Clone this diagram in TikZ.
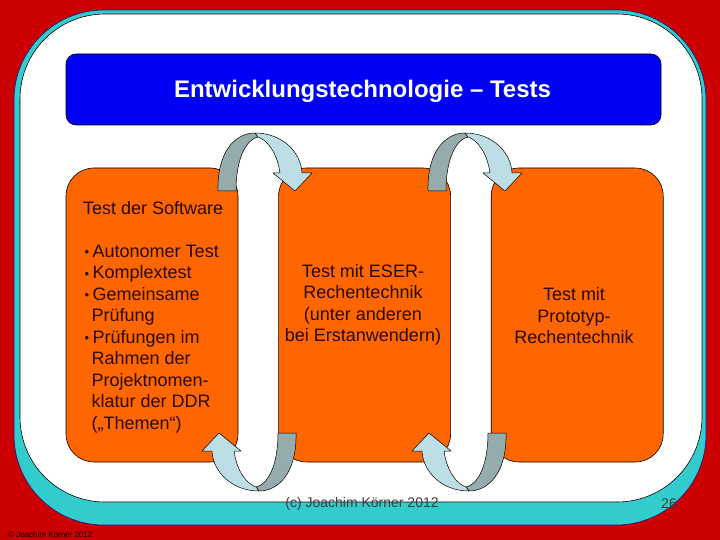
\documentclass[tikz,border=0pt]{standalone}
\usepackage{fontspec}
\setmainfont{Liberation Sans}
\usetikzlibrary{positioning}

\definecolor{slidered}{RGB}{204,0,0}
\definecolor{slideteal}{RGB}{51,204,204}
\definecolor{tealrim}{RGB}{20,20,140}
\definecolor{titleblue}{RGB}{0,0,245}
\definecolor{testorange}{RGB}{255,102,0}
\definecolor{arrowgray}{RGB}{150,172,172}
\definecolor{arrowlight}{RGB}{188,222,228}
\definecolor{footgray}{RGB}{60,60,60}
\definecolor{textdark}{RGB}{40,8,0}

\newcommand{\testbullet}{\makebox[9.5pt][l]{\hspace{1.5pt}\raisebox{0.5pt}{\fontsize{13}{13}\selectfont•}}}
\newcommand{\testindent}{\hspace*{8.5pt}}

\tikzset{
  testbox/.style={draw=black,line width=0.6pt,fill=testorange,rounded corners=28pt,minimum width=172pt,minimum height=294pt,inner sep=0pt},
  testtext/.style={font=\fontsize{18}{21.5}\selectfont,text=textdark,inner sep=0pt},
  looparrow/.pic={
    \draw[fill=arrowgray,line width=0.5pt,line join=round] (-39,-121) .. controls (-40,-160) and (-22,-179) .. (-2,-179) -- (1,-175) .. controls (-10,-173) and (-21,-155) .. (-21,-121) -- cycle;
    \draw[fill=arrowlight,line width=0.5pt,line join=round] (-2,-179) .. controls (25,-179) and (44,-160) .. (45,-139) -- (55,-139) -- (38,-121) -- (16,-139) -- (23,-139) .. controls (20,-160) and (10,-172) .. (1,-175) -- cycle;
  }
}

\begin{document}
\begin{tikzpicture}[x=1pt,y=-1pt]
                \useasboundingbox (0,0) rectangle (720,540);
                \fill[slidered] (0,0) rectangle (720,540);
                \draw[draw=tealrim,fill=slideteal,line width=0.6pt,rounded corners=90] (14,10) rectangle (706,525);
                \draw[draw=black,fill=white,line width=0.6pt,rounded corners=85] (20,14) rectangle (702,502);

                \node[draw=black,line width=0.6pt,fill=titleblue,rounded corners=10pt,minimum width=595pt,minimum height=71pt] (title) at (363.5,89.5) {};
                \node[font=\fontsize{24}{27}\selectfont\bfseries,text=white] (titletext) at (362.5,91.5) {Entwicklungstechnologie -- Tests};

                \node[testbox] (software) at (152,315) {};
                \node[testbox,right=40pt of software] (eser) {};
                \node[testbox,right=40pt of eser] (prototyp) {};

                \node[testtext,anchor=north west,align=left] (softwaretext) at (83,201) {Test der Software\\[21.5pt]
                  \testbullet Autonomer Test\\
                  \testbullet Komplextest\\
                  \testbullet Gemeinsame\\
                  \testindent Prüfung\\
                  \testbullet Prüfungen im\\
                  \testindent Rahmen der\\
                  \testindent Projektnomen-\\
                  \testindent klatur der DDR\\
                  \testindent („Themen“)};
                \node[testtext,align=center] (esertext) at (363,305) {Test mit ESER-\\Rechentechnik\\(unter anderen\\bei Erstanwendern)};
                \node[testtext,align=center] (prototyptext) at (574,316) {Test mit\\Prototyp-\\Rechentechnik};

                \pic at (257,312) {looparrow};
                \pic[rotate=180] at (257,312) {looparrow};
                \pic at (467,312) {looparrow};
                \pic[rotate=180] at (467,312) {looparrow};

                \node[font=\fontsize{14}{16}\selectfont,text=footgray] (credit) at (362,504) {(c) Joachim Körner 2012};
                \node[font=\fontsize{14}{16}\selectfont,text=footgray] (pagenum) at (669,504) {26};
                \node[anchor=west,font=\fontsize{8}{9}\selectfont,text=black,inner sep=0pt] (mark) at (8,534.5) {© Joachim Körner 2012};
\end{tikzpicture}
\end{document}
